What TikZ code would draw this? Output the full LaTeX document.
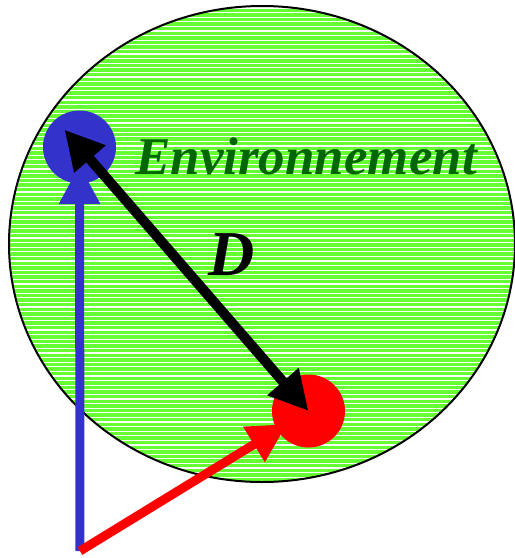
\documentclass[tikz,border=0pt]{standalone}
\usepackage{fontspec}
\setmainfont{Liberation Serif}
\usetikzlibrary{arrows.meta}
\definecolor{envgreen}{RGB}{102,255,51}
\definecolor{envtext}{RGB}{0,102,0}
\definecolor{spotblue}{RGB}{51,51,204}
\definecolor{spotred}{RGB}{255,0,0}

\begin{document}
\begin{tikzpicture}[x=1pt, y=-1pt,
  spot/.style={circle, minimum size=73pt, inner sep=0pt},
  link/.style={line width=9pt, -{Triangle[length=39pt,width=39pt]}},
  label/.style={font=\fontsize{#1}{#1}\selectfont\bfseries\itshape, anchor=base, inner sep=0pt}
]
\useasboundingbox (0,0) rectangle (515,558);
% environnement (hachures blanches)
\begin{scope}
  \clip (262,244) ellipse [x radius=253, y radius=238];
  \fill[envgreen] (0,0) rectangle (515,558);
  \foreach \k in {0,...,105}
    \draw[white, line width=1.1pt] (0,{8+4.6*\k}) -- (515,{8+4.6*\k});
\end{scope}
\draw[line width=2pt] (262,244) ellipse [x radius=253, y radius=238];

\node[spot, fill=spotblue] (agent) at (79.5,147) {};
\node[spot, fill=spotred] (cible) at (308.5,411) {};
\coordinate (o) at (80,551);

\node[label=53, text=envtext] (env) at (306,174) {Environnement};
\node[label=64] (d) at (232,275) {D};

\draw[link, spotblue, shorten >=18pt] (o) -- (agent.center);
\draw[link, spotred, shorten >=25pt] (o) -- (cible.center);
\draw[line width=10pt, {Triangle[length=39pt,width=39pt]}-{Triangle[length=39pt,width=39pt]},
  shorten <=-23pt] (agent.center) -- (cible.center);
\end{tikzpicture}
\end{document}
